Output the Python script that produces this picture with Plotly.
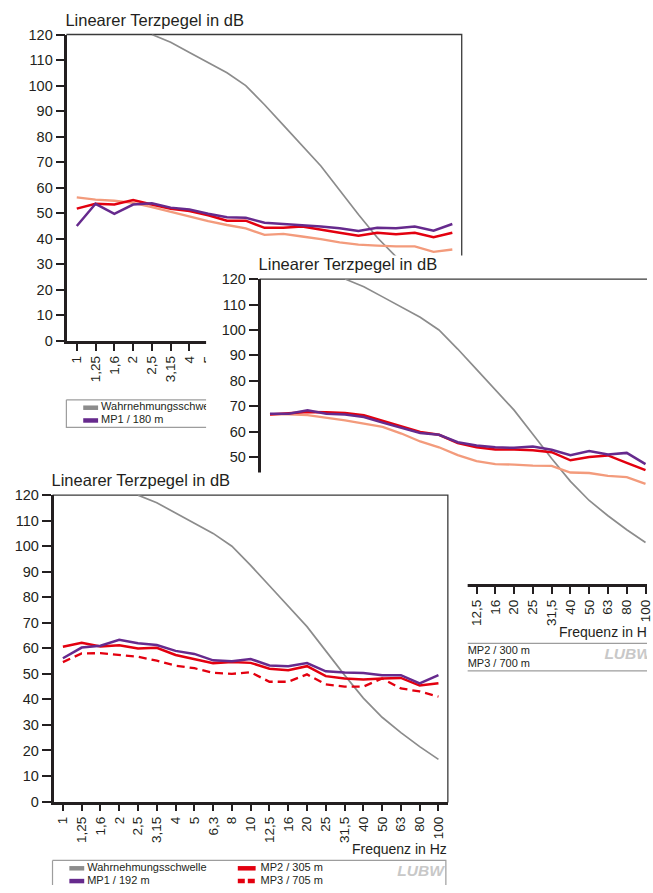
import plotly.graph_objects as go

W, H = 653, 893

# Third-octave band centre frequencies (Hz)
freq_labels = ["1", "1,25", "1,6", "2", "2,5", "3,15", "4", "5", "6,3", "8", "10",
               "12,5", "16", "20", "25", "31,5", "40", "50", "63", "80", "100"]
level_ticks = list(range(0, 121, 10))

# Wahrnehmungsschwelle in dB (values above 120 dB lie outside the axis)
threshold = [None, None, None, None, 120, 117, 113, 109, 105, 100, 92.5,
             84.5, 76.5, 68.5, 59, 49.5, 40.5, 33, 27, 21.5, 16.5]

# Panel A
a_mp1 = [45.0, 53.7, 49.8, 53.4, 53.9, 52.2, 51.5, 49.8, 48.4, 48.2, 46.3,
         45.8, 45.4, 44.8, 44.1, 43.1, 44.3, 44.1, 44.8, 43.2, 45.8]
a_mp2 = [51.8, 53.7, 53.4, 55.2, 53.4, 51.8, 50.9, 49.2, 47.1, 47.1, 44.3,
         44.3, 44.8, 43.7, 42.4, 41.2, 42.4, 41.8, 42.4, 40.6, 42.4]
a_mp3 = [56.2, 55.3, 54.9, 54.1, 52.4, 50.5, 48.6, 46.9, 45.4, 44.1, 41.5,
         41.9, 40.9, 39.9, 38.6, 37.7, 37.3, 37.0, 37.0, 34.9, 35.8]

# Panel B
b_mp1 = [67.1, 67.1, 68.4, 67.1, 66.8, 65.8, 63.6, 61.4, 59.5, 58.8, 55.9,
         54.6, 53.9, 53.7, 54.2, 52.9, 50.8, 52.4, 51.1, 51.7, 47.3]
b_mp2 = [66.8, 67.3, 67.8, 67.7, 67.4, 66.5, 64.2, 61.9, 59.9, 58.8, 55.6,
         53.9, 53.0, 53.0, 52.7, 52.0, 48.8, 50.1, 50.7, 47.8, 44.9]
b_mp3 = [66.8, 66.8, 66.5, 65.5, 64.5, 63.2, 61.9, 59.3, 56.2, 53.9, 50.8,
         48.5, 47.3, 47.1, 46.7, 46.6, 44.0, 43.8, 42.7, 42.2, 39.5]

# Panel C
c_mp1 = [56.1, 60.3, 61.0, 63.3, 62.0, 61.3, 59.0, 57.8, 55.3, 54.9, 55.8,
         53.3, 53.0, 54.2, 51.0, 50.5, 50.3, 49.5, 49.5, 46.3, 49.5]
c_mp2 = [60.6, 62.2, 60.7, 61.2, 59.9, 60.2, 57.4, 55.9, 54.2, 54.6, 54.3,
         52.0, 51.4, 53.0, 49.1, 48.2, 47.8, 48.2, 48.4, 45.4, 46.3]
c_mp3 = [54.6, 58.0, 58.1, 57.4, 56.7, 55.2, 53.2, 52.2, 50.4, 50.0, 50.6,
         46.9, 46.9, 49.8, 45.9, 45.0, 45.0, 48.2, 44.3, 43.1, 41.1]

PURPLE = "#662a8d"
RED = "#e3000f"
SALMON = "#f39b7c"
GRAY = "#8c8c8c"
INK = "#231f20"
FRAME = "#3a3a3a"
BOX = "#9d9d9d"
LOGO = "#c8c8c8"
FONT = "Liberation Sans"

# Each panel: plot frame in page pixels, plus the opaque card that hides the panel beneath
panels = [
    dict(left=67, right=466, top=27, bottom=340, card=(0, 0, W, H),
         series=(a_mp1, a_mp2, a_mp3),
         names=("MP1 / 180 m", "MP2 / 300 m", "MP3 / 700 m"), mp3_dashed=False),
    dict(left=262, right=661, top=276, bottom=588, card=(208, 252, W, H),
         series=(b_mp1, b_mp2, b_mp3),
         names=("MP1 / 180 m", "MP2 / 300 m", "MP3 / 700 m"), mp3_dashed=False),
    dict(left=53, right=452, top=496, bottom=809, card=(0, 473, 472, H),
         series=(c_mp1, c_mp2, c_mp3),
         names=("MP1 / 192 m", "MP2 / 305 m", "MP3 / 705 m"), mp3_dashed=True),
]

fig = go.Figure()
axes = {}


def text_trace(x, y, s, xa, ya, size=11, pos="middle right", color=INK, **font):
    return go.Scatter(x=[x], y=[y], mode="text", text=[s], textposition=pos,
                      textfont=dict(family=FONT, size=size, color=color, **font),
                      xaxis=xa, yaxis=ya, hoverinfo="skip")


def line_trace(xs, ys, xa, ya, color, width, dash="solid"):
    return go.Scatter(x=xs, y=ys, mode="lines", line=dict(color=color, width=width, dash=dash),
                      xaxis=xa, yaxis=ya, hoverinfo="skip")


for k, p in enumerate(panels):
    nb, nd = 2 * k + 1, 2 * k + 2
    sb = "" if nb == 1 else str(nb)
    sd = str(nd)
    bx, by = "x" + sb, "y" + sb
    dx, dy = "x" + sd, "y" + sd

    # card subplot: page-pixel coordinates, drawn under this panel's data subplot
    cx0, cy0, cx1, cy1 = p["card"]
    axes["xaxis" + sb] = dict(domain=[cx0 / W, cx1 / W], range=[cx0, cx1], visible=False,
                              anchor=by, fixedrange=True)
    axes["yaxis" + sb] = dict(domain=[1 - cy1 / H, 1 - cy0 / H], range=[cy1, cy0], visible=False,
                              anchor=bx, fixedrange=True)
    if k > 0:
        fig.add_trace(go.Scatter(x=[cx0 - 5, cx1 + 5, cx1 + 5, cx0 - 5, cx0 - 5],
                                 y=[cy0 - 5, cy0 - 5, cy1 + 5, cy1 + 5, cy0 - 5],
                                 mode="lines", fill="toself", fillcolor="white",
                                 line=dict(width=0, color="white"),
                                 xaxis=bx, yaxis=by, hoverinfo="skip"))

    L, R, T, B = p["left"], p["right"], p["top"], p["bottom"]
    # thin top/right frame
    fig.add_trace(line_trace([L, R, R], [T, T, B], bx, by, FRAME, 1.3))
    # y-axis caption
    fig.add_trace(text_trace(L - 1, T - 13, "Linearer Terzpegel in dB", bx, by, size=16.5))
    # x-axis caption
    fig.add_trace(text_trace(R - 1, B + 49, "Frequenz in Hz", bx, by, size=14, pos="middle left"))

    # legend box
    bt = B + 59
    fig.add_trace(line_trace([L, R - 2, R - 2, L, L], [bt, bt, bt + 28, bt + 28, bt], bx, by, BOX, 1.2))
    r1, r2 = bt + 8, bt + 21
    mp1_name, mp2_name, mp3_name = p["names"]
    mp3_color = RED if p["mp3_dashed"] else SALMON
    mp3_dash = "7px,3px" if p["mp3_dashed"] else "solid"
    fig.add_trace(line_trace([L + 17, L + 32], [r1, r1], bx, by, GRAY, 4.5))
    fig.add_trace(line_trace([L + 17, L + 32], [r2, r2], bx, by, PURPLE, 4.5))
    fig.add_trace(line_trace([L + 187, L + 205], [r1, r1], bx, by, RED, 4.5))
    fig.add_trace(line_trace([L + 187, L + 205], [r2, r2], bx, by, mp3_color, 4.5, mp3_dash))
    fig.add_trace(text_trace(L + 35, r1, "Wahrnehmungsschwelle", bx, by))
    fig.add_trace(text_trace(L + 35, r2, mp1_name, bx, by))
    fig.add_trace(text_trace(L + 210, r1, mp2_name, bx, by))
    fig.add_trace(text_trace(L + 210, r2, mp3_name, bx, by))
    fig.add_trace(text_trace(L + 348, bt + 12, "LUBW", bx, by, size=15.5, color=LOGO,
                             weight="bold", style="italic"))

    # data subplot
    vis_right = min(R, W)
    step = (R - L) / len(freq_labels)
    x_end = -0.5 + (vis_right - L) / step
    axes["xaxis" + sd] = dict(
        domain=[(L + 1) / W, vis_right / W], anchor=dy, type="category",
        categoryorder="array", categoryarray=freq_labels, range=[-0.5, x_end],
        showline=True, linewidth=2.5, linecolor=INK, ticks="outside", ticklen=7,
        tickwidth=2, tickcolor=INK, tickangle=-90,
        tickfont=dict(family=FONT, size=13.5, color=INK),
        showgrid=False, zeroline=False, fixedrange=True)
    axes["yaxis" + sd] = dict(
        domain=[1 - (B - 1) / H, 1 - T / H], anchor=dx, range=[0, 120],
        tickmode="array", tickvals=level_ticks,
        showline=True, linewidth=2.5, linecolor=INK, ticks="outside", ticklen=9,
        tickwidth=2, tickcolor=INK, tickfont=dict(family=FONT, size=14.5, color=INK),
        showgrid=False, zeroline=False, fixedrange=True)

    mp1, mp2, mp3 = p["series"]
    fig.add_trace(go.Scatter(x=freq_labels, y=threshold, mode="lines", name="Wahrnehmungsschwelle",
                             line=dict(color=GRAY, width=1.7), xaxis=dx, yaxis=dy))
    fig.add_trace(go.Scatter(x=freq_labels, y=mp3, mode="lines", name=mp3_name,
                             line=dict(color=mp3_color, width=2.3,
                                       dash="8px,5px" if p["mp3_dashed"] else "solid"),
                             xaxis=dx, yaxis=dy))
    fig.add_trace(go.Scatter(x=freq_labels, y=mp2, mode="lines", name=mp2_name,
                             line=dict(color=RED, width=2.5), xaxis=dx, yaxis=dy))
    fig.add_trace(go.Scatter(x=freq_labels, y=mp1, mode="lines", name=mp1_name,
                             line=dict(color=PURPLE, width=2.5), xaxis=dx, yaxis=dy))

fig.update_layout(
    width=W, height=H,
    margin=dict(l=0, r=0, t=0, b=0, pad=0),
    paper_bgcolor="white", plot_bgcolor="rgba(0,0,0,0)",
    showlegend=False,
    **axes,
)

fig.write_html("out.html")
